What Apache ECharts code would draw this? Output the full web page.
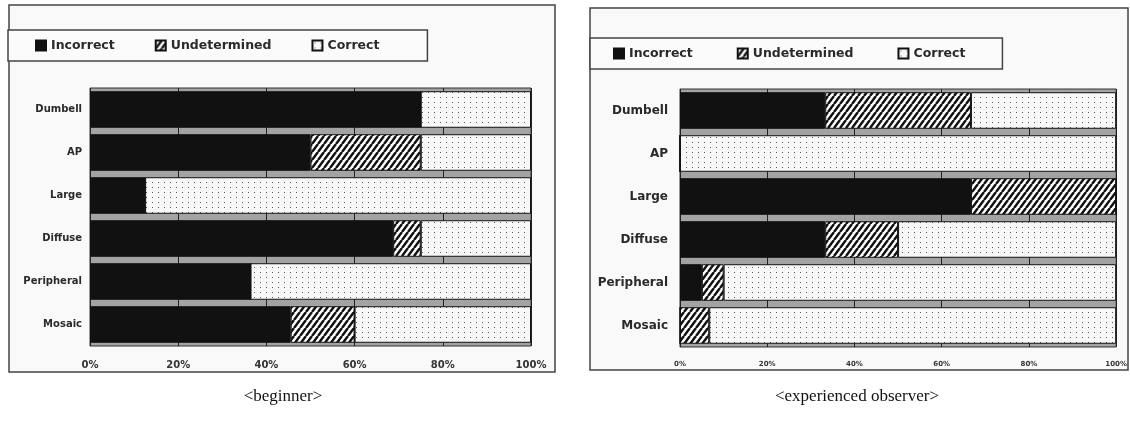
<!DOCTYPE html>
<html>
<head>
<meta charset="utf-8">
<script src="https://cdn.jsdelivr.net/npm/echarts@6/dist/echarts.min.js"></script>
<style>
  html, body { margin: 0; padding: 0; background: #ffffff; }
  #chart { width: 1130px; height: 422px; }
</style>
</head>
<body>
<div id="chart"></div>
<script>
// Categories (top to bottom) and percentage of each reading outcome
const categories = ['Dumbell', 'AP', 'Large', 'Diffuse', 'Peripheral', 'Mosaic'];

const beginnerIncorrect    = [75, 50, 12.5, 68.75, 36.4, 45.5];
const beginnerUndetermined = [0, 25, 0, 6.25, 0, 14.5];
const beginnerCorrect      = [25, 25, 87.5, 25, 63.6, 40];

const expertIncorrect      = [33.3, 0, 66.7, 33.3, 5, 0];
const expertUndetermined   = [33.4, 0, 33.3, 16.7, 5, 6.7];
const expertCorrect        = [33.3, 100, 0, 50, 90, 93.3];

const percentTicks = [0, 20, 40, 60, 80, 100];
const seriesNames = ['Incorrect', 'Undetermined', 'Correct'];
const panelCaptions = ['<beginner>', '<experienced observer>'];

// Fill patterns: diagonal hatching and sparse dots
function hatchPattern() {
  const w = 6, h = 8;
  const c = document.createElement('canvas');
  c.width = w; c.height = h;
  const g = c.getContext('2d');
  g.fillStyle = '#ffffff';
  g.fillRect(0, 0, w, h);
  g.strokeStyle = '#111111';
  g.lineWidth = 2.5;
  g.beginPath();
  for (let k = -1; k <= 1; k++) {
    g.moveTo(k * w, h);
    g.lineTo(k * w + w, 0);
  }
  g.stroke();
  return c;
}
function dotPattern() {
  const w = 6, h = 5;
  const c = document.createElement('canvas');
  c.width = w; c.height = h;
  const g = c.getContext('2d');
  g.fillStyle = '#f8f8f8';
  g.fillRect(0, 0, w, h);
  g.fillStyle = '#5a5a5a';
  g.fillRect(2, 2, 1, 1);
  return c;
}

const fills = [
  '#111111',
  { image: hatchPattern(), repeat: 'repeat' },
  { image: dotPattern(), repeat: 'repeat' }
];

const panels = [
  { data: [beginnerIncorrect, beginnerUndetermined, beginnerCorrect],
    grid: { left: 90, top: 88, width: 441, height: 258 },
    frame: { x: 9, y: 5, width: 546, height: 367 },
    legend: { left: 8, top: 30, padding: [9, 48, 9, 27], itemGap: 40 },
    yFont: 10, xFont: 10, yMargin: 8, caption: { x: 283, y: 397 } },
  { data: [expertIncorrect, expertUndetermined, expertCorrect],
    grid: { left: 680, top: 89, width: 438, height: 258 },
    frame: { x: 590, y: 8, width: 538, height: 362 },
    legend: { left: 590, top: 38, padding: [9, 37, 9, 23], itemGap: 44 },
    yFont: 12, xFont: 7, yMargin: 12, caption: { x: 857, y: 397 } }
];

const textFont = 'DejaVu Sans';

const option = {
  backgroundColor: '#ffffff',
  animation: false,
  graphic: [],
  legend: [],
  grid: [],
  xAxis: [],
  yAxis: [],
  series: []
};

panels.forEach((p, i) => {
  option.graphic.push({
    type: 'rect', z: -10, silent: true,
    shape: p.frame,
    style: { fill: '#f9f9f9', stroke: '#444444', lineWidth: 1.5 }
  });
  option.graphic.push({
    type: 'text', silent: true,
    x: p.caption.x, y: p.caption.y,
    style: {
      text: panelCaptions[i], fill: '#111111',
      font: '17px "Liberation Serif"', textAlign: 'center', textVerticalAlign: 'middle'
    }
  });
  option.legend.push({
    left: p.legend.left, top: p.legend.top,
    padding: p.legend.padding, itemGap: p.legend.itemGap,
    orient: 'horizontal', selectedMode: false,
    backgroundColor: '#fbfbfb', borderColor: '#444444', borderWidth: 1.5,
    itemWidth: 10, itemHeight: 10, icon: 'rect',
    textStyle: {
      fontFamily: textFont, fontSize: 12.5, fontWeight: 'bold', color: '#2a2a2a',
      padding: [0, 0, 0, 0]
    },
    data: seriesNames
  });
  option.grid.push(Object.assign({
    show: true, backgroundColor: '#a3a3a3', borderColor: '#333333', borderWidth: 1
  }, p.grid));
  option.xAxis.push({
    gridIndex: i, type: 'value', min: 0, max: 100, interval: 20,
    axisLine: { show: false }, axisTick: { show: false },
    splitLine: { show: true, lineStyle: { color: '#222222', width: 1 } },
    axisLabel: {
      formatter: v => percentTicks.includes(v) ? v + '%' : '',
      fontFamily: textFont, fontSize: p.xFont, fontWeight: 'bold', color: '#333333',
      margin: 14
    }
  });
  option.yAxis.push({
    gridIndex: i, type: 'category', data: categories, inverse: true,
    axisLine: { show: false }, axisTick: { show: false },
    axisLabel: {
      fontFamily: textFont, fontSize: p.yFont, fontWeight: 'bold', color: '#2a2a2a',
      margin: p.yMargin
    }
  });
  seriesNames.forEach((name, k) => {
    option.series.push({
      name: name, type: 'bar', stack: 'panel' + i,
      xAxisIndex: i, yAxisIndex: i,
      barCategoryGap: '15%',
      data: p.data[k],
      itemStyle: { color: fills[k], borderColor: '#111111', borderWidth: 1 }
    });
  });
});

const chart = echarts.init(document.getElementById('chart'), null, { renderer: 'canvas' });
chart.setOption(option);
</script>
</body>
</html>
